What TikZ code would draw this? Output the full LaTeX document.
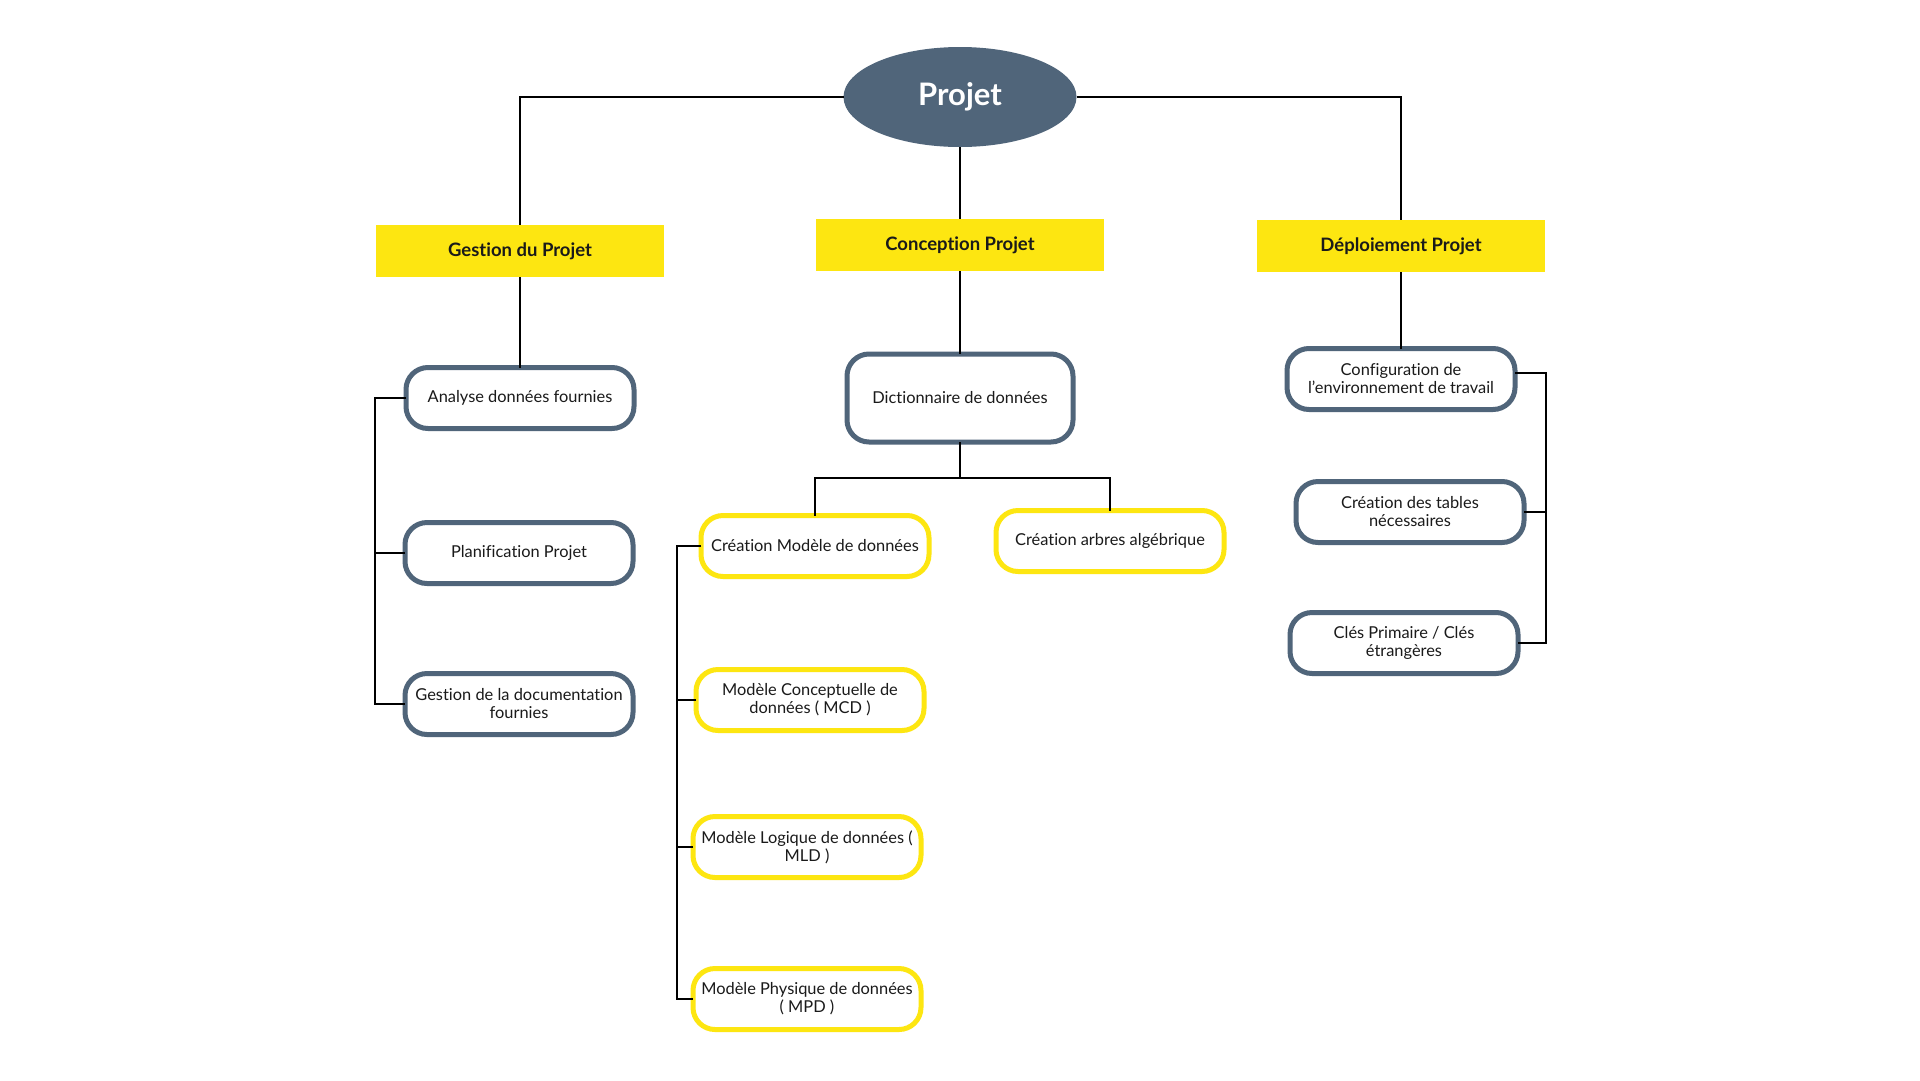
\documentclass[tikz,border=0pt]{standalone}
\usepackage{tikz}
\usepackage{xcolor}
\usepackage{fontspec}
\setmainfont[Ligatures=NoCommon]{Lato}
\usetikzlibrary{shapes.geometric}
\definecolor{ardoise}{HTML}{50657A}
\definecolor{citron}{HTML}{FDE611}
\definecolor{encre}{HTML}{1A1A1A}

\begin{document}
\begin{tikzpicture}[x=1pt, y=-1pt,
    titre/.style={fill=citron, minimum width=288pt, minimum height=52pt, inner sep=0pt, outer sep=0pt, text=encre, font=\fontsize{18.5}{22}\selectfont\bfseries},
    tache/.style={draw=ardoise, line width=5pt, rounded corners=22pt, fill=white, minimum width=228pt, minimum height=61pt, inner sep=2pt, outer sep=0pt, align=center, text=encre, font=\fontsize{16.4}{18}\selectfont},
    modele/.style={tache, draw=citron},
    lien/.style={draw=black, line width=2pt}]
                \fill[white] (0,0) rectangle (1920,1080);
                \useasboundingbox (0,0) rectangle (1920,1080);

                \node[ellipse, fill=ardoise, minimum width=233pt, minimum height=100pt, inner sep=0pt, outer sep=0pt, text=white, font=\fontsize{31}{34}\selectfont\bfseries]
                (proj) at (960, 97) {\raisebox{-2pt}{Projet}};

                \node[titre] (gest) at (520, 251) {Gestion du Projet};
                \node[titre] (conc) at (960, 245) {Conception Projet};
                \node[titre] (depl) at (1401, 246) {Déploiement Projet};

                \node[tache] (anal) at (520, 398) {Analyse données fournies};
                \node[tache] (plan) at (519, 553) {Planification Projet};
                \node[tache] (doc) at (519, 704) {Gestion de la documentation\\fournies};

                \node[tache, minimum width=226pt, minimum height=88pt] (dict) at (960, 398) {Dictionnaire de données};
                \node[modele] (crm) at (815, 546) {Création Modèle de données};
                \node[modele] (arb) at (1110, 541) {Création arbres algébrique};
                \node[modele] (mcd) at (810, 700) {Modèle Conceptuelle de\\données ( MCD )};
                \node[modele] (mld) at (807, 847) {Modèle Logique de données (\\MLD )};
                \node[modele] (mpd) at (807, 999) {Modèle Physique de données\\( MPD )};

                \node[tache] (cfg) at (1401, 379) {Configuration de\\l’environnement de travail};
                \node[tache] (tab) at (1410, 512) {Création des tables\\nécessaires};
                \node[tache] (cle) at (1404, 643) {Clés Primaire / Clés\\étrangères};

                % liens du projet vers les trois parties
                \draw[lien] (proj.west) -| (gest.north);
                \draw[lien] (proj.east) -| (depl.north);
                \draw[lien] (proj.south) -- (conc.north);
                \draw[lien] (gest.south) -- (anal.north);
                \draw[lien] (conc.south) -- (dict.north);
                \draw[lien] (depl.south) -- (cfg.north);

                % branches
                \coordinate (dj) at (960, 478);
                \coordinate (lb) at (375, 398);
                \coordinate (mb) at (677, 546);
                \coordinate (rb) at (1546, 373);
                \draw[lien] (dict.south) -- (dj);
                \draw[lien] (crm.north) |- (dj) -| (arb.north);
                \draw[lien] (anal.west) -- (lb) |- (doc.west);
                \draw[lien] (plan.west) -- (plan.west -| lb);
                \draw[lien] (crm.west) -- (mb) |- (mpd.west);
                \draw[lien] (mcd.west) -- (mcd.west -| mb);
                \draw[lien] (mld.west) -- (mld.west -| mb);
                \draw[lien] ([yshift=6pt]cfg.east) -- (rb) |- (cle.east);
                \draw[lien] (tab.east) -- (tab.east -| rb);
            \end{tikzpicture}
\end{document}
